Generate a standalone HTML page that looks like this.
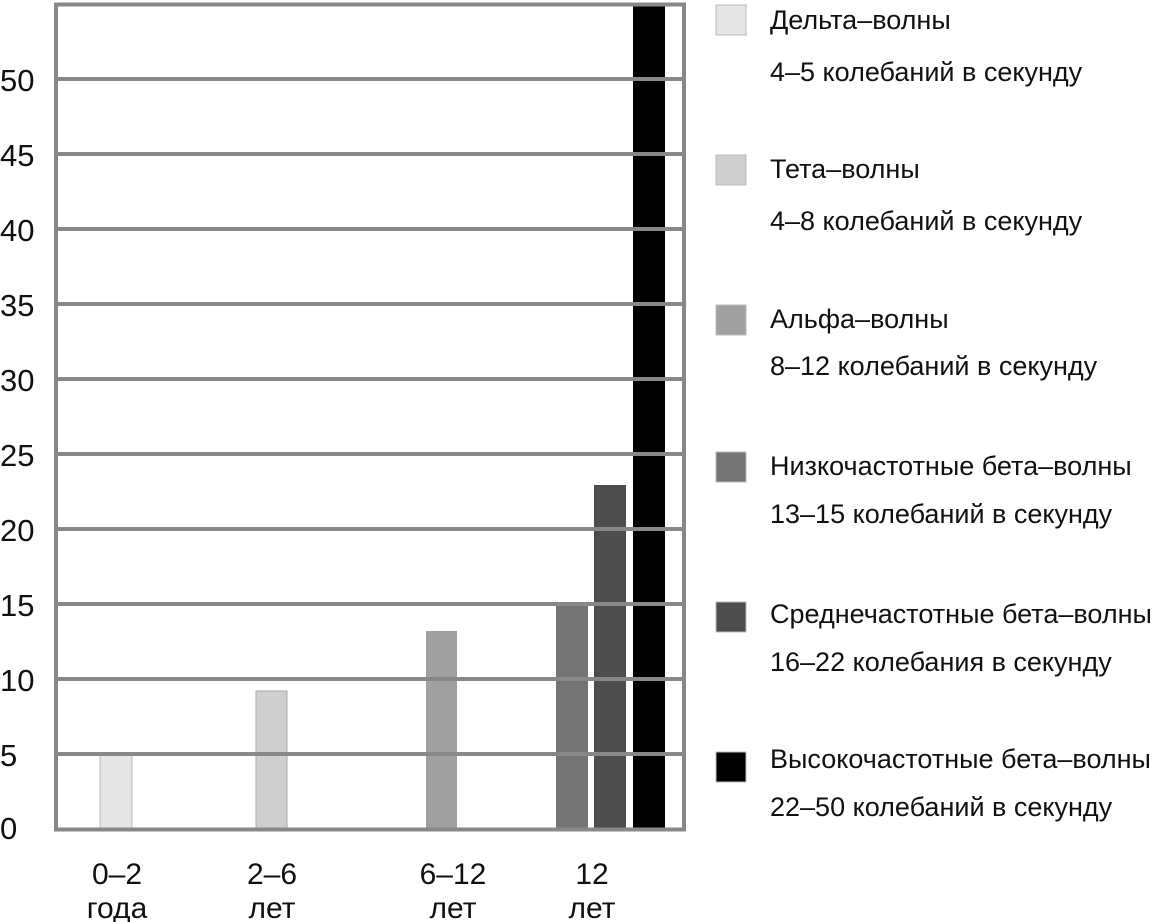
<!DOCTYPE html>
<html><head><meta charset="utf-8"><style>body{margin:0;background:#fff}svg{display:block}text{font-family:"Liberation Sans","DejaVu Sans",sans-serif;fill:#111}</style></head><body>
<svg width="1167" height="922" viewBox="0 0 1167 922">
<rect x="100" y="754" width="32" height="75" fill="#e6e6e6" stroke="#bbb" stroke-width="1"/>
<rect x="256" y="691" width="31" height="138" fill="#cfcfcf" stroke="#aaa" stroke-width="1"/>
<rect x="426" y="631" width="31" height="198" fill="#a0a0a0"/>
<rect x="556" y="605" width="32" height="224" fill="#747474"/>
<rect x="594" y="485" width="32" height="344" fill="#4d4d4d"/>
<rect x="633" y="4" width="32" height="825" fill="#000"/>
<g stroke="#888" stroke-width="4" fill="none">
<line x1="56" y1="79" x2="684" y2="79"/><line x1="56" y1="154" x2="684" y2="154"/><line x1="56" y1="229" x2="684" y2="229"/><line x1="56" y1="304" x2="684" y2="304"/><line x1="56" y1="379" x2="684" y2="379"/><line x1="56" y1="454" x2="684" y2="454"/><line x1="56" y1="529" x2="684" y2="529"/><line x1="56" y1="604" x2="684" y2="604"/><line x1="56" y1="679" x2="684" y2="679"/><line x1="56" y1="754" x2="684" y2="754"/>
<rect x="56" y="4.5" width="628" height="825"/>
</g>
<g font-size="31">
<text x="0" y="91">50</text><text x="0" y="166">45</text><text x="0" y="241">40</text><text x="0" y="316">35</text><text x="0" y="391">30</text><text x="0" y="466">25</text><text x="0" y="541">20</text><text x="0" y="616">15</text><text x="0" y="691">10</text><text x="0" y="766">5</text><text x="0" y="839">0</text>
</g>
<g font-size="30" text-anchor="middle">
<text x="117" y="884">0–2</text><text x="117" y="918">года</text>
<text x="272" y="884">2–6</text><text x="272" y="918">лет</text>
<text x="453" y="884">6–12</text><text x="453" y="918">лет</text>
<text x="592" y="884">12</text><text x="592" y="918">лет</text>
</g>
<g stroke="#bbb" stroke-width="1">
<rect x="716" y="5" width="30" height="30" fill="#e6e6e6"/>
<rect x="716" y="155" width="30" height="30" fill="#cfcfcf"/>
<rect x="716" y="305" width="30" height="30" fill="#a0a0a0"/>
<rect x="716" y="452" width="30" height="30" fill="#747474"/>
<rect x="716" y="602" width="30" height="30" fill="#4d4d4d"/>
<rect x="716" y="752" width="30" height="30" fill="#000"/>
</g>
<g font-size="27">
<text x="770" y="29">Дельта–волны</text><text x="770" y="81">4–5 колебаний в секунду</text>
<text x="770" y="178">Тета–волны</text><text x="770" y="230">4–8 колебаний в секунду</text>
<text x="770" y="328">Альфа–волны</text><text x="770" y="375">8–12 колебаний в секунду</text>
<text x="770" y="475">Низкочастотные бета–волны</text><text x="770" y="523">13–15 колебаний в секунду</text>
<text x="770" y="623">Среднечастотные бета–волны</text><text x="770" y="671">16–22 колебания в секунду</text>
<text x="770" y="768">Высокочастотные бета–волны</text><text x="770" y="816">22–50 колебаний в секунду</text>
</g>
</svg>
</body></html>
